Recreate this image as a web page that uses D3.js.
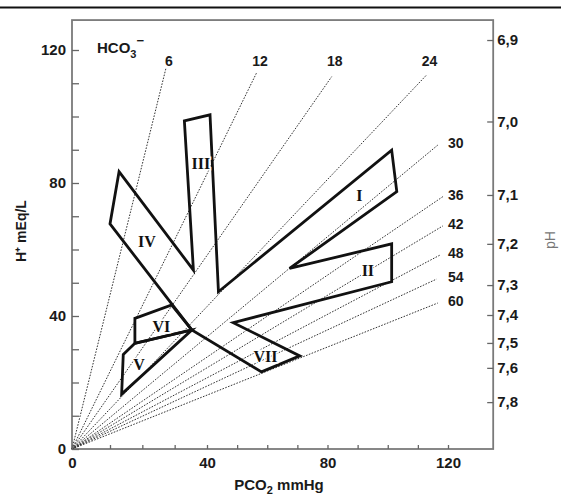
<!DOCTYPE html>
<html><head><meta charset="utf-8">
<script src="https://cdn.jsdelivr.net/npm/d3@7"></script>
<style>
html,body{margin:0;padding:0;background:#fff;}
svg{display:block;font-family:"Liberation Sans",Arial,Helvetica,sans-serif;}
</style></head>
<body><svg id="chart" width="561" height="495"></svg>
<script>
// ---- data ----
const pco2Ticks = [0,10,20,30,40,50,60,70,80,90,100,110,120];
const pco2Labels = [0,40,80,120];
const hTicks = [0,10,20,30,40,50,60,70,80,90,100,110,120];
const hLabels = [0,40,80,120];
const phTicks = [6.9,7.0,7.1,7.2,7.3,7.4,7.5,7.6,7.8];
const phTickLabels = ["6,9","7,0","7,1","7,2","7,3","7,4","7,5","7,6","7,8"];
const phTickH = [123.0,98.5,76.4,61.7,49.3,40.3,31.9,24.4,14.1]; // H+ level of each pH tick
const hco3Values = [6,12,18,24,30,36,42,48,54,60];
const hco3EndPco2 = [27.3,56.6,81.4,112.9,116.6,118.3,118.3,117.3,116.2,116.6];
const hco3EndH    = [114.5,113.4,112.0,112.5,91.4,75.9,67.1,58.3,51.1,43.9];
// outline of regions I, II, III, IV, VII  [PCO2, H+]
const outlineMain = [[12.8,83.4],[35.8,53.8],[33.0,98.7],[41.0,100.5],[43.8,47.3],[101.3,89.9],[103.0,77.4],
  [67.4,54.3],[101.3,61.7],[101.3,50.3],[48.7,38.0],[70.8,28.0],[58.1,23.2],[35.3,35.8],[10.0,67.7]];
const regionV  = [[14.1,28.4],[17.7,31.8],[35.3,35.8],[13.6,16.5]];
const regionVI = [[17.7,39.3],[29.1,43.3],[35.3,35.8],[17.7,31.8]];
const regionNames = ["I","II","III","IV","V","VI","VII"];
const regionLabelPco2 = [90.6,93.4,38.1,21.4,19.0,25.9,59.4];
const regionLabelH    = [76.4,53.8,85.9,62.3,25.3,36.8,27.8];
const xMax = 135, yMax = 129;

// ---- scales ----
const x = d3.scaleLinear().domain([0,10,40,120]).range([72,110,207,448]);
const y = d3.scaleLinear().domain([0,120]).range([449,50]);
const yPh = d3.scaleLinear().domain(phTicks).range(phTickH.map(h => y(h)));

const svg = d3.select("#chart");
// top page rule
svg.append("line").attr("x1",0).attr("x2",561).attr("y1",7.5).attr("y2",7.5)
  .attr("stroke","#111").attr("stroke-width",2);

// frame
svg.append("rect").attr("x",x(0)).attr("y",y(yMax))
  .attr("width",x(xMax)-x(0)).attr("height",y(0)-y(yMax))
  .attr("fill","none").attr("stroke","#7a7a7a").attr("stroke-width",1.8);

// HCO3 isopleths
const line = d3.line().x(d=>x(d[0])).y(d=>y(d[1]));
const iso = hco3Values.map((v,i)=>({v, end:[hco3EndPco2[i],hco3EndH[i]]}));
svg.append("g").selectAll("path").data(iso).join("path")
  .attr("d", d=>line([[0,0],d.end]))
  .attr("fill","none").attr("stroke","#333").attr("stroke-width",1)
  .attr("stroke-dasharray","1.6,1.4");
// isopleth labels
svg.append("g").selectAll("text").data(iso).join("text")
  .attr("x", (d,i)=> i<4 ? x(d.end[0])+3 : 448)
  .attr("y", (d,i)=> i<4 ? 66 : y(d.end[1])+3)
  .attr("text-anchor",(d,i)=> i<4 ? "middle" : "start")
  .attr("font-size",14).attr("font-weight","bold").attr("fill","#1a1a1a")
  .text(d=>d.v);

// regions
const poly = d3.line().x(d=>x(d[0])).y(d=>y(d[1])).curve(d3.curveLinearClosed);
svg.append("g").selectAll("path").data([outlineMain,regionV,regionVI]).join("path")
  .attr("d", poly).attr("fill","none").attr("stroke","#111")
  .attr("stroke-width",2.8).attr("stroke-linejoin","miter");
svg.append("g").selectAll("text").data(regionNames).join("text")
  .attr("x",(d,i)=>x(regionLabelPco2[i])).attr("y",(d,i)=>y(regionLabelH[i]))
  .attr("dy","0.35em").attr("text-anchor","middle")
  .style("font-family","'Liberation Serif','Times New Roman',serif")
  .attr("font-size",16).attr("font-weight","bold").attr("fill","#111")
  .attr("stroke","#fff").attr("stroke-width",3).attr("paint-order","stroke")
  .text(d=>d);

// axes
const axL = d3.axisLeft(y).tickValues(hTicks).tickSizeInner(-7).tickSizeOuter(0).tickPadding(6)
  .tickFormat(d=>hLabels.includes(d)?d:"");
const gL = svg.append("g").attr("transform",`translate(${x(0)},0)`).call(axL);
const axB = d3.axisBottom(x).tickValues(pco2Ticks).tickSizeInner(-4).tickSizeOuter(0).tickPadding(8)
  .tickFormat(d=>pco2Labels.includes(d)?d:"");
const gB = svg.append("g").attr("transform",`translate(0,${y(0)})`).call(axB);
const axR = d3.axisRight(yPh).tickValues(phTicks).tickSizeInner(-6).tickSizeOuter(0).tickPadding(4)
  .tickFormat((d,i)=>phTickLabels[i]);
const gR = svg.append("g").attr("transform",`translate(${x(xMax)},0)`).call(axR);
[gL,gB,gR].forEach(g=>{
  g.attr("font-family",null);
  g.select(".domain").remove();
  g.selectAll(".tick line").attr("stroke","#666").attr("stroke-width",1.3);
  g.selectAll(".tick text").style("font-family","'Liberation Sans',Arial,sans-serif")
    .attr("font-size",15).attr("font-weight","bold").attr("fill","#1a1a1a");
});

// titles
const t1 = svg.append("text").attr("x",97).attr("y",53).attr("font-size",15).attr("font-weight","bold").attr("fill","#1a1a1a");
t1.append("tspan").text("HCO");
t1.append("tspan").attr("dy",5).attr("font-size",11).text("3");
t1.append("tspan").attr("dy",-13).attr("font-size",13).text("\u2212");

const t2 = svg.append("text").attr("x",279).attr("y",490).attr("text-anchor","middle")
  .attr("font-size",15).attr("font-weight","bold").attr("fill","#1a1a1a");
t2.append("tspan").text("PCO");
t2.append("tspan").attr("dy",4).attr("font-size",11).text("2");
t2.append("tspan").attr("dy",-4).text(" mmHg");

svg.append("text").attr("transform","translate(26,231) rotate(-90)").attr("text-anchor","middle")
  .attr("font-size",14).attr("font-weight","bold").attr("fill","#1a1a1a").text("H\u207A mEq/L");

svg.append("text").attr("transform","translate(555,240) rotate(-90)").attr("text-anchor","middle")
  .attr("font-size",14).attr("fill","#777").text("pH");
</script></body></html>
